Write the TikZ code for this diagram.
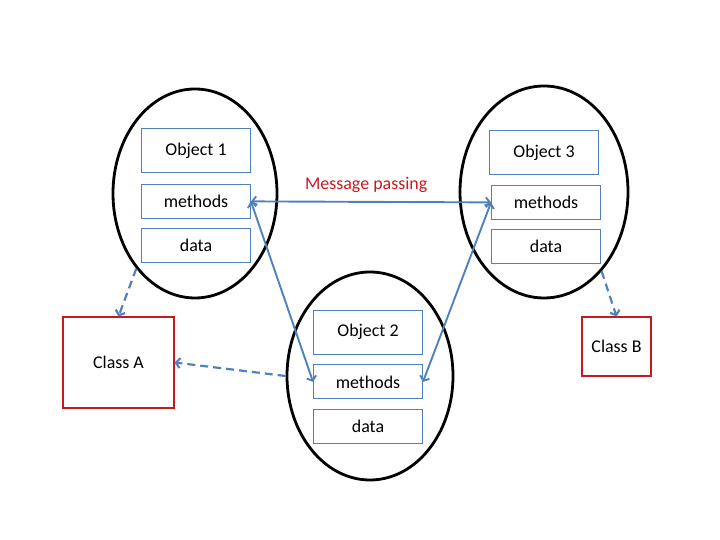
\documentclass[tikz,border=0pt]{standalone}
\usepackage{fontspec}
\setmainfont{Carlito}
\usetikzlibrary{arrows.meta,shapes.geometric,positioning}
\definecolor{slideblue}{RGB}{79,129,189}
\definecolor{slidered}{RGB}{200,25,30}
\tikzset{
  objring/.style={draw,ellipse,line width=2.8bp,inner sep=0pt},
  part/.style={draw=slideblue,line width=0.9bp,minimum width=109bp,minimum height=34bp,inner sep=0pt},
  classbox/.style={draw=slidered,line width=1.1bp,inner sep=0pt},
  msg/.style={draw=slideblue,line width=1.9bp,<->,>={Straight Barb[length=4bp,width=10bp]}},
  inherit/.style={draw=slideblue,line width=2.2bp,dash pattern=on 8bp off 5bp,->,>={Straight Barb[length=4bp,width=10bp]}}
}

\begin{document}
\begin{tikzpicture}[x=1bp,y=1bp,font=\fontsize{18}{21}\selectfont]
\useasboundingbox (0,0) rectangle (720,540);
\node[objring,minimum width=164bp,minimum height=209bp] (e1) at (195,346.5) {};
\node[objring,minimum width=166bp,minimum height=208bp] (e2) at (370,164) {};
\node[objring,minimum width=168bp,minimum height=212bp] (e3) at (544,348) {};
\node[part,minimum height=44bp] (o1) at (196,389.5) {Object 1};
\node[part,below=11bp of o1] (m1) {methods};
\node[part,below=9bp of m1] (d1) {data};
\node[part,minimum height=44bp] (o2) at (368,208) {Object 2};
\node[part,below=10bp of o2] (m2) {methods};
\node[part,below=10bp of m2] (d2) {data};
\node[part,minimum height=44bp] (o3) at (544,387.5) {Object 3};
\node[part,below=10bp of o3,xshift=2bp] (m3) {methods};
\node[part,below=9bp of m3] (d3) {data};
\node[classbox,minimum width=111bp,minimum height=91bp] (ca) at (118.5,177.5) {Class A};
\node[classbox,minimum width=69bp,minimum height=59bp] (cb) at (616.5,193.5) {Class B};
\draw[msg] (m1.east) -- node[above=5bp,pos=0.48,text=slidered] {Message passing} (m3.west);
\draw[msg] (m1.east) -- (m2.west);
\draw[msg] (m3.west) -- (m2.east);
\draw[inherit] (e1.232) -- (ca.north);
\draw[inherit] (e2.west) -- (ca.east);
\draw[inherit] (e3.306) -- (cb.north);
\end{tikzpicture}
\end{document}
